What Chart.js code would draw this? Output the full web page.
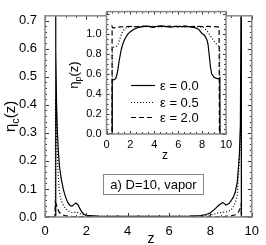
<!DOCTYPE html>
<html><head><meta charset="utf-8">
<script src="https://cdn.jsdelivr.net/npm/chart.js@4/dist/chart.umd.min.js"></script>
<style>
html,body{margin:0;padding:0;background:#fff;}
#wrap{position:relative;width:266px;height:245px;overflow:hidden;}
canvas{position:absolute;left:0;top:0;}
</style></head><body>
<div id="wrap"><canvas id="main" width="266" height="245"></canvas><canvas id="inset" width="266" height="245"></canvas></div>
<script>
// ---------- DATA ----------
const seriesLabels = ['ε = 0.0', 'ε = 0.5', 'ε = 2.0'];
const mainXTicks = [0, 2, 4, 6, 8, 10];
const mainYTicks = [0, 0.1, 0.2, 0.3, 0.4, 0.5, 0.6, 0.7];
const insetXTicks = [0, 2, 4, 6, 8, 10];
const insetYTicks = [0, 0.2, 0.4, 0.6, 0.8, 1.0];

// main panel: eta_c(z)
const c0_z   = [0, 0.5, 0.51, 0.53, 0.56, 0.6, 0.65, 0.7, 0.8, 0.9, 1.0, 1.1, 1.2, 1.3, 1.4, 1.5, 1.6, 1.7, 1.8, 1.9, 2.0, 2.5, 3.0, 4.0, 5.0, 6.0, 7.0, 7.5, 7.8, 8.0, 8.2, 8.4, 8.6, 8.75, 8.9, 9.0, 9.1, 9.2, 9.3, 9.4, 9.45, 9.49, 9.5, 10];
const c0_eta = [0, 0, 0.95, 0.6, 0.4, 0.3, 0.23, 0.18, 0.13, 0.095, 0.07, 0.052, 0.042, 0.038, 0.045, 0.05, 0.043, 0.028, 0.016, 0.009, 0.006, 0.003, 0.002, 0.002, 0.002, 0.002, 0.003, 0.005, 0.009, 0.015, 0.027, 0.042, 0.052, 0.043, 0.048, 0.058, 0.07, 0.088, 0.125, 0.22, 0.33, 0.95, 0, 0];
const c05_z   = [0, 0.5, 0.51, 0.55, 0.6, 0.64, 0.68, 0.74, 0.8, 0.9, 1.0, 1.1, 1.2, 1.3, 1.4, 1.5, 1.6, 1.7, 1.85, 2.0, 2.5, 3, 4, 5, 6, 7, 7.5, 8.0, 8.2, 8.4, 8.6, 8.8, 9.0, 9.1, 9.2, 9.3, 9.4, 9.46, 9.49, 9.5, 10];
const c05_eta = [0, 0, 0.42, 0.3, 0.22, 0.15, 0.1, 0.072, 0.055, 0.04, 0.03, 0.023, 0.019, 0.016, 0.016, 0.018, 0.016, 0.012, 0.008, 0.005, 0.003, 0.002, 0.002, 0.002, 0.002, 0.002, 0.003, 0.007, 0.011, 0.015, 0.017, 0.018, 0.025, 0.035, 0.05, 0.08, 0.2, 0.32, 0.42, 0, 0];
const c2_z   = [0, 0.48, 0.5, 0.55, 0.6, 0.7, 0.8, 1.0, 1.3, 2, 3, 5, 7, 8, 8.7, 9.0, 9.2, 9.35, 9.44, 9.49, 9.5, 10];
const c2_eta = [0, 0, 0.052, 0.045, 0.03, 0.016, 0.009, 0.004, 0.002, 0.001, 0.001, 0.001, 0.001, 0.001, 0.002, 0.004, 0.008, 0.017, 0.03, 0.047, 0, 0];

// inset panel: eta_p(z)
const p0_z   = [0, 0.47, 0.48, 0.6, 0.75, 0.85, 0.95, 1.05, 1.15, 1.25, 1.4, 1.55, 1.75, 2.0, 2.3, 2.6, 3.0, 3.4, 3.8, 4.2, 4.6, 5.0, 5.4, 5.8, 6.2, 6.6, 7.0, 7.4, 7.7, 8.0, 8.2, 8.4, 8.5, 8.6, 8.7, 8.8, 9.0, 9.2, 9.4, 9.48, 9.5, 10];
const p0_eta = [0, 0, 0.53, 0.54, 0.55, 0.58, 0.64, 0.72, 0.79, 0.85, 0.91, 0.95, 0.99, 1.02, 1.045, 1.06, 1.07, 1.075, 1.068, 1.072, 1.078, 1.07, 1.066, 1.074, 1.07, 1.076, 1.068, 1.06, 1.045, 1.0, 0.985, 0.94, 0.89, 0.78, 0.67, 0.6, 0.565, 0.555, 0.55, 0.56, 0, 0];
const p05_z   = [0, 0.48, 0.49, 0.6, 0.75, 0.9, 1.0, 1.1, 1.2, 1.3, 1.45, 1.6, 1.8, 2.1, 2.5, 3.0, 3.5, 4.0, 4.5, 5.0, 5.5, 6.0, 6.5, 7.0, 7.5, 7.9, 8.1, 8.4, 8.8, 9.1, 9.35, 9.47, 9.49, 10];
const p05_eta = [0, 0, 0.86, 0.865, 0.87, 0.88, 0.9, 0.94, 0.98, 1.01, 1.04, 1.055, 1.065, 1.07, 1.072, 1.068, 1.075, 1.07, 1.066, 1.074, 1.07, 1.076, 1.068, 1.072, 1.07, 1.068, 1.065, 1.03, 0.96, 0.91, 0.88, 0.875, 0, 0];
const p2_z   = [0, 0.46, 0.47, 0.55, 0.7, 0.9, 1.2, 1.6, 2.0, 2.5, 3.0, 3.5, 4.0, 4.5, 5.0, 5.5, 6.0, 6.5, 7.0, 7.5, 8.0, 8.5, 9.0, 9.3, 9.42, 9.45, 10];
const p2_eta = [0, 0, 1.07, 1.055, 1.06, 1.065, 1.068, 1.07, 1.072, 1.069, 1.075, 1.07, 1.066, 1.074, 1.07, 1.076, 1.068, 1.072, 1.07, 1.074, 1.07, 1.072, 1.07, 1.068, 1.065, 0, 0];

// ---------- helpers ----------
const FONT = '"Liberation Sans", Arial, Helvetica, sans-serif';
Chart.defaults.font.family = FONT;
Chart.defaults.color = '#000';
Chart.defaults.animation = false;

const pts = (xs, ys) => xs.map((x, i) => ({x: x, y: ys[i]}));
const dashes = [[], [1, 2], [5, 3]];
function makeSets(list, width) {
  return list.map((d, i) => ({
    label: seriesLabels[i], data: pts(d[0], d[1]),
    borderColor: '#000', borderWidth: width, borderDash: dashes[i],
    pointRadius: 0, fill: false, tension: 0
  }));
}

function drawFrame(chart, xMinor, xMajor, yMinor, yMajor, majLen, minLen) {
  const {ctx, chartArea: a, scales: {x, y}} = chart;
  ctx.save();
  ctx.strokeStyle = '#333'; ctx.lineWidth = 1;
  ctx.beginPath();
  for (let v = x.min; v <= x.max + 1e-9; v += xMinor) {
    const px = Math.round(x.getPixelForValue(v)) + 0.5;
    const maj = Math.abs(v / xMajor - Math.round(v / xMajor)) < 1e-6;
    const L = maj ? majLen : minLen;
    ctx.moveTo(px, a.bottom); ctx.lineTo(px, a.bottom - L);
    ctx.moveTo(px, a.top); ctx.lineTo(px, a.top + L);
  }
  for (let v = Math.max(0, y.min); v <= y.max + 1e-9; v += yMinor) {
    const py = Math.round(y.getPixelForValue(v)) + 0.5;
    const maj = Math.abs(v / yMajor - Math.round(v / yMajor)) < 1e-6;
    const L = maj ? majLen : minLen;
    ctx.moveTo(a.left, py); ctx.lineTo(a.left + L, py);
    ctx.moveTo(a.right, py); ctx.lineTo(a.right - L, py);
  }
  ctx.stroke();
  ctx.strokeStyle = '#888'; ctx.lineWidth = 1.5;
  ctx.strokeRect(a.left, a.top, a.right - a.left, a.bottom - a.top);
  ctx.restore();
}

function drawSubLabel(ctx, cx, cy, rot, base, sub, tail, size) {
  ctx.save();
  ctx.translate(cx, cy); ctx.rotate(rot);
  ctx.fillStyle = '#000'; ctx.textBaseline = 'alphabetic'; ctx.textAlign = 'left';
  const f1 = size + 'px ' + FONT, f2 = Math.round(size * 0.72) + 'px ' + FONT;
  ctx.font = f1; const w1 = ctx.measureText(base).width; const w3 = ctx.measureText(tail).width;
  ctx.font = f2; const w2 = ctx.measureText(sub).width;
  const x0 = -(w1 + w2 + w3) / 2; const by = size * 0.35;
  ctx.font = f1; ctx.fillText(base, x0, by);
  ctx.font = f2; ctx.fillText(sub, x0 + w1, by + size * 0.28);
  ctx.font = f1; ctx.fillText(tail, x0 + w1 + w2, by);
  ctx.restore();
}

function fixedTicks(arr) { return (scale) => { scale.ticks = arr.map(v => ({value: v})); }; }
const noGrid = {display: false, drawTicks: false, tickLength: 0};

// ---------- main chart (chart area 45..257 x 5..217) ----------
const mainPlugin = {
  id: 'mainDeco',
  afterDraw(chart) {
    const ctx = chart.ctx, a = chart.chartArea;
    drawFrame(chart, 0.5, 2, 0.02, 0.1, 4, 2);
    drawSubLabel(ctx, 10, (a.top + a.bottom) / 2, -Math.PI / 2, 'η', 'c', '(z)', 15);
    ctx.save();
    ctx.font = '14px ' + FONT; ctx.fillStyle = '#000'; ctx.textAlign = 'center'; ctx.textBaseline = 'middle';
    ctx.fillText('z', 151, 239);
    ctx.fillStyle = '#fff'; ctx.fillRect(103, 174, 100, 20);
    ctx.strokeStyle = '#888'; ctx.lineWidth = 1; ctx.strokeRect(103.5, 174.5, 100, 20);
    ctx.fillStyle = '#000'; ctx.font = '13px ' + FONT;
    ctx.fillText('a) D=10, vapor', 153.5, 185);
    ctx.restore();
  }
};

new Chart(document.getElementById('main'), {
  type: 'line',
  data: {datasets: makeSets([[c0_z, c0_eta], [c05_z, c05_eta], [c2_z, c2_eta]], 1.2)},
  options: {
    responsive: false, devicePixelRatio: 1,
    layout: {padding: {left: 0, right: 9, top: 5, bottom: 0}},
    plugins: {legend: {display: false}, tooltip: {enabled: false}},
    scales: {
      x: {type: 'linear', min: 0, max: 10,
          afterBuildTicks: fixedTicks(mainXTicks),
          afterFit: (s) => { s.height = 28; },
          grid: noGrid, border: {display: false},
          ticks: {font: {size: 13}, padding: 7, maxRotation: 0, callback: v => String(v)}},
      y: {type: 'linear', min: 0, max: 0.717,
          afterBuildTicks: fixedTicks(mainYTicks),
          afterFit: (s) => { s.width = 45; },
          grid: noGrid, border: {display: false},
          ticks: {font: {size: 13}, padding: 8, callback: v => Number(v).toFixed(1)}}
    }
  },
  plugins: [mainPlugin]
});

// ---------- inset chart (full-size transparent overlay; chart area 106.5..226 x 9..134) ----------
const insetPlugin = {
  id: 'insetDeco',
  beforeDatasetsDraw(chart) {
    const {ctx, chartArea: a} = chart;
    ctx.save(); ctx.fillStyle = '#fff';
    ctx.fillRect(a.left, a.top, a.right - a.left, a.bottom - a.top);
    ctx.restore();
  },
  afterDraw(chart) {
    const ctx = chart.ctx, a = chart.chartArea;
    drawFrame(chart, 0.5, 2, 0.05, 0.2, 3, 2);
    drawSubLabel(ctx, 73, 75, -Math.PI / 2, 'η', 'p', '(z)', 13);
    ctx.save();
    ctx.font = '12px ' + FONT; ctx.fillStyle = '#000'; ctx.textAlign = 'center'; ctx.textBaseline = 'middle';
    ctx.fillText('z', 165, 156);
    const ys = [85, 102, 117];
    chart.data.datasets.forEach((ds, i) => {
      ctx.strokeStyle = '#000'; ctx.lineWidth = 1.2; ctx.setLineDash(ds.borderDash);
      ctx.beginPath(); ctx.moveTo(131, ys[i] + 0.5); ctx.lineTo(155, ys[i] + 0.5); ctx.stroke();
      ctx.setLineDash([]);
      ctx.font = '13px ' + FONT; ctx.textAlign = 'left'; ctx.fillStyle = '#000';
      ctx.fillText(ds.label, 160, ys[i] + 1);
    });
    ctx.restore();
  }
};

new Chart(document.getElementById('inset'), {
  type: 'line',
  data: {datasets: makeSets([[p0_z, p0_eta], [p05_z, p05_eta], [p2_z, p2_eta]], 1.2)},
  options: {
    responsive: false, devicePixelRatio: 1,
    layout: {padding: {left: 60, right: 40, top: 9, bottom: 80}},
    plugins: {legend: {display: false}, tooltip: {enabled: false}},
    scales: {
      x: {type: 'linear', min: 0, max: 10,
          afterBuildTicks: fixedTicks(insetXTicks),
          afterFit: (s) => { s.height = 31; },
          grid: noGrid, border: {display: false},
          ticks: {font: {size: 11}, padding: 4, maxRotation: 0, callback: v => String(v)}},
      y: {type: 'linear', min: 0, max: 1.22,
          afterBuildTicks: fixedTicks(insetYTicks),
          afterFit: (s) => { s.width = 46.5; },
          grid: noGrid, border: {display: false},
          ticks: {font: {size: 11}, padding: 5, callback: v => Number(v).toFixed(1)}}
    }
  },
  plugins: [insetPlugin]
});
</script>
</body></html>
